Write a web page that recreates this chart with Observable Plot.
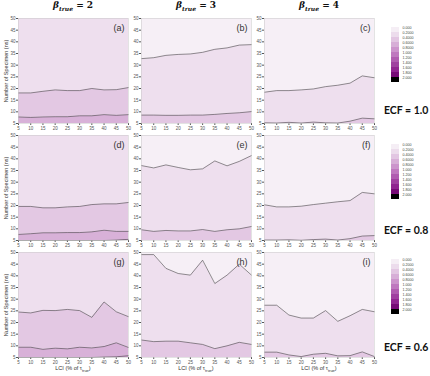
<!DOCTYPE html>
<html><head><meta charset="utf-8">
<script src="https://cdn.jsdelivr.net/npm/d3@7"></script>
<script src="https://cdn.jsdelivr.net/npm/@observablehq/plot@0.6"></script>
<style>
body{margin:0;background:#fff;}
#wrap{position:relative;width:430px;height:376px;overflow:hidden;font-family:"Liberation Sans",Arial,sans-serif;}
.abs{position:absolute;}
.title{font-family:"DejaVu Serif","Liberation Serif",serif;font-weight:bold;font-size:9px;color:#111;white-space:nowrap;transform:translateX(-50%);}
.title sub{font-size:6px;font-style:italic;}
.ecf{font-family:Lato,"Open Sans",sans-serif;font-weight:bold;font-size:10.5px;color:#111;white-space:nowrap;transform:translateY(-50%);}
.ylab{font-size:5.5px;color:#333;white-space:nowrap;transform:translate(-50%,-50%) rotate(-90deg);}
.xlab{font-size:5.5px;color:#333;white-space:nowrap;transform:translateX(-50%);}
.xlab sub{font-size:4px;}
</style></head>
<body><div id="wrap"></div>
<script>
const X = [5,10,15,20,25,30,35,40,45,50];
const yTicks = [5,10,15,20,25,30,35,40,45,50];
const betaLabels = ["2","3","4"];
const ecfLabels = ["ECF = 1.0","ECF = 0.8","ECF = 0.6"];
const panelLabels = ["(a)","(b)","(c)","(d)","(e)","(f)","(g)","(h)","(i)"];
const cbLabels = ["0.000","0.2000","0.4000","0.6000","0.8000","1.000","1.200","1.400","1.600","1.800","2.000"];
const cbColors = ["#f5eef5","#ecdcec","#e2c6e2","#d7aed7","#cc94cc","#bf78bf","#b05cb0","#a040a0","#902490","#760a76","#000000"];

const a_upper = [18.1,18.1,18.8,19.4,19.1,19.1,20.0,19.4,19.5,20.4];
const a_lower = [7.8,7.6,7.8,7.9,7.9,8.3,8.3,8.8,8.5,8.8];
const b_upper = [32.8,33.2,34.2,34.6,34.8,35.5,36.8,37.4,38.6,38.8];
const b_lower = [8.6,8.6,8.5,8.5,8.6,8.6,8.9,9.3,9.6,10.1];
const c_upper = [18.4,19.1,19.1,19.4,19.8,20.8,21.4,22.3,25.4,24.6];
const c_lower = [5.3,5.2,5.5,5.2,5.6,5.3,5.2,6.0,7.3,7.0];
const d_upper = [19.6,19.6,19.0,19.0,19.4,19.6,20.4,20.7,20.7,21.3];
const d_lower = [7.6,7.9,8.3,8.3,8.4,8.4,8.7,9.4,8.9,8.9];
const d_base  = [5.0,5.0,5.0,5.0,5.0,5.0,5.0,5.0,5.2,5.5];
const e_upper = [37.1,36.1,37.4,36.3,35.3,35.7,39.1,37.0,38.9,41.4];
const e_lower = [9.6,8.9,9.3,9.1,9.1,9.7,8.9,9.6,10.0,11.0];
const f_upper = [20.3,19.4,19.4,19.7,20.4,21.0,21.6,22.1,25.6,25.0];
const f_lower = [5.2,5.2,5.3,5.1,5.4,5.6,5.2,5.8,6.9,7.1];
const g_upper = [24.5,24.1,25.2,25.1,25.6,25.1,22.2,28.8,24.6,22.5];
const g_lower = [9.4,9.4,8.5,9.0,8.7,9.4,9.1,9.7,11.3,9.3];
const g_base  = [5.0,5.0,5.0,5.0,5.0,5.0,5.0,5.2,5.3,5.8];
const h_upper = [49.1,49.1,43.2,41.0,40.3,46.7,36.7,40.3,45.0,40.3];
const h_lower = [12.5,11.8,12.0,12.0,11.3,10.6,8.8,10.0,11.5,10.6];
const i_upper = [27.4,27.4,23.2,21.9,21.9,25.1,20.5,22.9,25.6,24.6];
const i_lower = [7.3,7.3,6.1,5.4,6.4,6.8,5.7,5.8,7.4,5.4];

const level = ["#f6eff6","#eedfee","#e3c8e3","#d8b1d8","#cc9acc"];

const panels = [
  {u:a_upper,l:a_lower,b:null,shade:1},
  {u:b_upper,l:b_lower,b:null,shade:0},
  {u:c_upper,l:c_lower,b:null,shade:0},
  {u:d_upper,l:d_lower,b:d_base,shade:1},
  {u:e_upper,l:e_lower,b:null,shade:0},
  {u:f_upper,l:f_lower,b:null,shade:0},
  {u:g_upper,l:g_lower,b:g_base,shade:1},
  {u:h_upper,l:h_lower,b:null,shade:0},
  {u:i_upper,l:i_lower,b:null,shade:0}
];

const colX = [18,141,264], rowY = [18,135,252], PW = 110, PH = 105;
const ml = 16, mr = 2, mt = 2, mb = 10;
const wrap = document.getElementById("wrap");
function place(el, left, top){ el.classList.add("abs"); el.style.left = left+"px"; el.style.top = top+"px"; wrap.appendChild(el); return el; }

panels.forEach((p, k) => {
  const r = Math.floor(k/3), c = k%3;
  const rows = X.map((x,i) => ({x, u:p.u[i], l:p.l[i], b: p.b ? p.b[i] : 5}));
  const s = p.shade;
  const marks = [
    Plot.areaY(rows, {x:"x", y1:"u", y2:50, fill:level[s]}),
    Plot.areaY(rows, {x:"x", y1:"l", y2:"u", fill:level[s+1]}),
    Plot.areaY(rows, {x:"x", y1:"b", y2:"l", fill:level[s+2]})
  ];
  if (p.b) marks.push(Plot.areaY(rows, {x:"x", y1:5, y2:"b", fill:level[s+3]}));
  marks.push(Plot.lineY(rows, {x:"x", y:"u", stroke:"#4a4a4a", strokeWidth:0.6}));
  marks.push(Plot.lineY(rows, {x:"x", y:"l", stroke:"#4a4a4a", strokeWidth:0.6}));
  if (p.b) marks.push(Plot.lineY(rows, {x:"x", y:"b", stroke:"#4a4a4a", strokeWidth:0.6}));
  marks.push(Plot.frame({stroke:"#c8c8c8", strokeWidth:0.5}));
  marks.push(Plot.text([panelLabels[k]], {frameAnchor:"top-right", dx:-4, dy:6, fontSize:9, fill:"#333", fontFamily:"Liberation Sans"}));
  const svg = Plot.plot({
    width: PW+ml+mr, height: PH+mt+mb,
    marginLeft: ml, marginRight: mr, marginTop: mt, marginBottom: mb,
    style: {fontSize:"4.5px", color:"#555", fontFamily:"Liberation Sans", background:"transparent", overflow:"visible"},
    x: {domain:[5,50], ticks:X, tickSize:2, tickPadding:1, label:null},
    y: {domain:[5,50], ticks:yTicks, tickSize:2, tickPadding:1, label:null},
    marks
  });
  place(svg, colX[c]-ml, rowY[r]-mt);
});

// titles
betaLabels.forEach((b, c) => {
  const d = document.createElement("div");
  d.className = "title";
  d.innerHTML = '<i>β</i><sub>true</sub> = ' + b;
  place(d, colX[c]+PW/2, 0);
});

// y labels & x labels
rowY.forEach(ry => {
  const d = document.createElement("div");
  d.className = "ylab";
  d.textContent = "Number of Specimen (ns)";
  place(d, 6, ry+PH/2);
});
colX.forEach(cx => {
  const d = document.createElement("div");
  d.className = "xlab";
  d.innerHTML = "LCI (% of τ<sub>true</sub>)";
  place(d, cx+PW/2, 365);
});

// colorbars
const cbTop = [22,139,254];
const bands = cbLabels.map((label,i) => ({label, color: cbColors[i]}));
cbTop.forEach((t, r) => {
  const svg = Plot.plot({
    width: 40, height: 64, marginLeft: 0, marginRight: 32, marginTop: 0, marginBottom: 0,
    style: {background:"transparent", overflow:"visible"},
    color: {type:"identity"},
    y: {type:"band", domain: cbLabels, padding:0, axis:null},
    marks: [
      Plot.cell(bands, {y:"label", fill:"color"}),
      Plot.text(bands, {y:"label", text:"label", frameAnchor:"right", textAnchor:"start", dx:3, dy:-2, fontSize:3.6, fill:"#444", fontFamily:"Liberation Sans"})
    ]
  });
  place(svg, 391, t);
  const e = document.createElement("div");
  e.className = "ecf";
  e.textContent = ecfLabels[r];
  place(e, 384, [110,230,347][r]);
});
</script></body></html>
